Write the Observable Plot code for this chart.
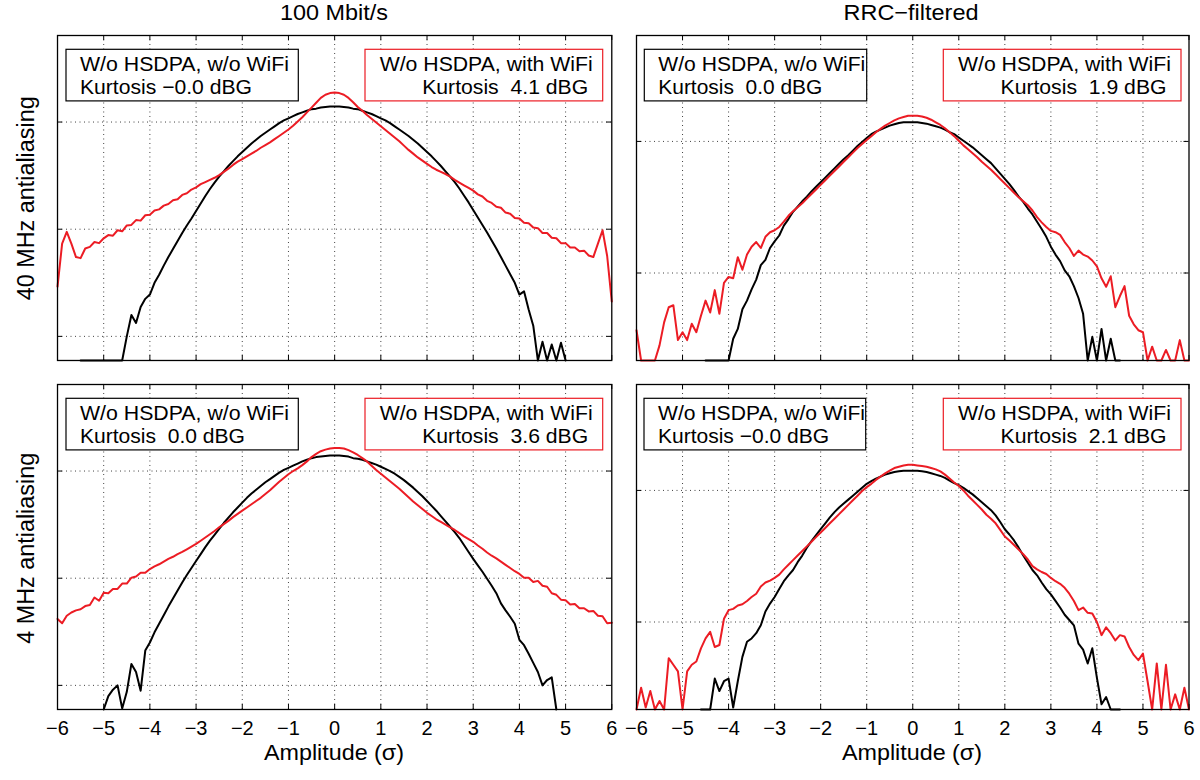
<!DOCTYPE html>
<html>
<head>
<meta charset="utf-8">
<script src="https://cdn.jsdelivr.net/npm/d3@7"></script>
<script src="https://cdn.jsdelivr.net/npm/@observablehq/plot@0.6"></script>
<style>
html,body{margin:0;padding:0;background:#fff;}
#root{position:relative;width:1200px;height:780px;overflow:hidden;background:#fff;}
#root svg{position:absolute;}
</style>
</head>
<body>
<div id="root"></div>
<script>
// ---------------- DATA ----------------
// Amplitude bins (in units of sigma)
const amplitude = [
-6,-5.9,-5.8,-5.7,-5.6,-5.5,-5.4,-5.3,-5.2,-5.1,
-5,-4.9,-4.8,-4.7,-4.6,-4.5,-4.4,-4.3,-4.2,-4.1,
-4,-3.9,-3.8,-3.7,-3.6,-3.5,-3.4,-3.3,-3.2,-3.1,
-3,-2.9,-2.8,-2.7,-2.6,-2.5,-2.4,-2.3,-2.2,-2.1,
-2,-1.9,-1.8,-1.7,-1.6,-1.5,-1.4,-1.3,-1.2,-1.1,
-1,-0.9,-0.8,-0.7,-0.6,-0.5,-0.4,-0.3,-0.2,-0.1,
0,0.1,0.2,0.3,0.4,0.5,0.6,0.7,0.8,0.9,
1,1.1,1.2,1.3,1.4,1.5,1.6,1.7,1.8,1.9,
2,2.1,2.2,2.3,2.4,2.5,2.6,2.7,2.8,2.9,
3,3.1,3.2,3.3,3.4,3.5,3.6,3.7,3.8,3.9,
4,4.1,4.2,4.3,4.4,4.5,4.6,4.7,4.8,4.9,
5,5.1,5.2,5.3,5.4,5.5,5.6,5.7,5.8,5.9,
6];

// log10 of the bin probability (null = no data)
// 100 Mbit/s, 40 MHz antialiasing
const mbit40_woWifi = [
null,null,null,null,null,-6.45,-6.45,-6.45,-6.45,-6.45,
-6.45,-6.45,-6.45,-6.45,-6.45,-6.0,-5.6,-5.75,-5.45,-5.3,
-5.22,-5.0,-4.85,-4.68,-4.52,-4.37,-4.22,-4.07,-3.93,-3.8,
-3.66,-3.52,-3.38,-3.25,-3.13,-3.02,-2.92,-2.82,-2.73,-2.64,
-2.56,-2.48,-2.4,-2.33,-2.26,-2.2,-2.14,-2.08,-2.02,-1.97,
-1.93,-1.89,-1.85,-1.82,-1.79,-1.76,-1.75,-1.73,-1.72,-1.71,
-1.71,-1.71,-1.72,-1.73,-1.75,-1.76,-1.79,-1.82,-1.85,-1.89,
-1.93,-1.97,-2.02,-2.08,-2.14,-2.2,-2.26,-2.33,-2.4,-2.48,
-2.56,-2.64,-2.73,-2.82,-2.92,-3.02,-3.12,-3.24,-3.37,-3.5,
-3.64,-3.78,-3.92,-4.06,-4.21,-4.36,-4.52,-4.68,-4.84,-5.0,
-5.22,-5.16,-5.5,-5.8,-6.45,-6.1,-6.45,-6.15,-6.45,-6.12,
-6.45,null,null,null,null,null,null,null,null,null,
null];
const mbit40_withWifi = [
-5.07,-4.27,-4.05,-4.27,-4.52,-4.54,-4.36,-4.33,-4.24,-4.26,
-4.17,-4.11,-4.12,-4.02,-4.04,-3.93,-3.92,-3.83,-3.84,-3.74,
-3.73,-3.65,-3.63,-3.56,-3.53,-3.46,-3.44,-3.36,-3.33,-3.26,
-3.22,-3.16,-3.12,-3.08,-3.04,-2.99,-2.93,-2.87,-2.8,-2.74,
-2.69,-2.64,-2.59,-2.54,-2.48,-2.43,-2.38,-2.32,-2.26,-2.2,
-2.14,-2.07,-1.99,-1.91,-1.82,-1.73,-1.64,-1.55,-1.49,-1.46,
-1.45,-1.46,-1.49,-1.55,-1.63,-1.72,-1.79,-1.87,-1.94,-2.01,
-2.08,-2.15,-2.22,-2.29,-2.36,-2.44,-2.52,-2.59,-2.66,-2.72,
-2.78,-2.84,-2.89,-2.93,-2.97,-3.02,-3.08,-3.13,-3.18,-3.23,
-3.28,-3.35,-3.39,-3.47,-3.51,-3.58,-3.6,-3.69,-3.71,-3.79,
-3.8,-3.88,-3.89,-3.97,-3.98,-4.07,-4.07,-4.16,-4.17,-4.26,
-4.26,-4.34,-4.34,-4.41,-4.4,-4.49,-4.52,-4.27,-4.02,-4.5,
-5.35];

// RRC-filtered, 40 MHz antialiasing
const rrc40_woWifi = [
null,null,null,null,null,null,null,null,null,null,
null,null,null,null,null,-5.33,-5.33,-5.33,-5.33,-5.33,
-5.33,-5.0,-4.85,-4.55,-4.42,-4.25,-4.1,-3.88,-3.8,-3.62,
-3.52,-3.43,-3.28,-3.18,-3.07,-2.99,-2.91,-2.84,-2.76,-2.69,
-2.62,-2.55,-2.48,-2.41,-2.34,-2.27,-2.21,-2.14,-2.07,-2.01,
-1.95,-1.89,-1.85,-1.82,-1.79,-1.76,-1.74,-1.72,-1.71,-1.71,
-1.71,-1.71,-1.72,-1.73,-1.75,-1.77,-1.79,-1.82,-1.86,-1.89,
-1.94,-1.99,-2.04,-2.09,-2.15,-2.21,-2.27,-2.33,-2.41,-2.49,
-2.57,-2.65,-2.74,-2.84,-2.92,-3.02,-3.11,-3.22,-3.33,-3.45,
-3.6,-3.72,-3.82,-3.96,-4.05,-4.2,-4.38,-4.62,-5.33,-4.97,
-5.33,-4.85,-5.33,-5.0,-5.33,-5.33,null,null,null,null,
null,null,null,null,null,null,null,null,null,null,
null];
const rrc40_withWifi = [
-4.87,-5.33,-5.33,-5.33,-5.33,-5.1,-4.75,-4.52,-4.49,-5.02,
-4.9,-5.02,-4.77,-4.9,-4.65,-4.42,-4.6,-4.26,-4.62,-4.15,
-4.06,-4.08,-3.76,-3.95,-3.72,-3.6,-3.53,-3.62,-3.45,-3.38,
-3.35,-3.3,-3.22,-3.13,-3.06,-3.0,-2.94,-2.87,-2.8,-2.73,
-2.66,-2.59,-2.52,-2.45,-2.38,-2.31,-2.24,-2.17,-2.1,-2.04,
-1.98,-1.92,-1.86,-1.81,-1.76,-1.72,-1.68,-1.65,-1.63,-1.61,
-1.61,-1.61,-1.62,-1.64,-1.67,-1.71,-1.75,-1.8,-1.86,-1.92,
-1.99,-2.06,-2.12,-2.18,-2.24,-2.31,-2.37,-2.43,-2.5,-2.57,
-2.64,-2.71,-2.78,-2.85,-2.91,-2.97,-3.05,-3.15,-3.23,-3.3,
-3.36,-3.38,-3.42,-3.53,-3.62,-3.74,-3.66,-3.72,-3.75,-3.81,
-3.9,-4.08,-4.21,-4.05,-4.52,-4.35,-4.2,-4.65,-4.78,-4.87,
-4.9,-5.33,-5.12,-5.33,-5.33,-5.17,-5.33,-5.33,-5.02,-5.33,
-5.33];

// 100 Mbit/s, 4 MHz antialiasing
const mbit4_woWifi = [
null,null,null,null,null,null,null,null,null,null,
-6.45,-6.2,-6.08,-6.0,-6.43,-6.12,-5.6,-5.75,-6.1,-5.35,
-5.2,-5.01,-4.85,-4.69,-4.53,-4.38,-4.23,-4.08,-3.94,-3.81,
-3.68,-3.55,-3.42,-3.3,-3.19,-3.08,-2.97,-2.87,-2.77,-2.68,
-2.59,-2.5,-2.42,-2.35,-2.28,-2.21,-2.15,-2.09,-2.03,-1.98,
-1.94,-1.9,-1.86,-1.82,-1.79,-1.76,-1.74,-1.73,-1.72,-1.71,
-1.71,-1.71,-1.72,-1.73,-1.76,-1.77,-1.79,-1.82,-1.85,-1.88,
-1.92,-1.96,-2.0,-2.05,-2.11,-2.17,-2.24,-2.31,-2.39,-2.47,
-2.56,-2.65,-2.74,-2.84,-2.94,-3.04,-3.14,-3.25,-3.38,-3.51,
-3.64,-3.76,-3.88,-4.01,-4.14,-4.28,-4.47,-4.6,-4.72,-4.85,
-5.15,-5.25,-5.41,-5.58,-5.75,-6.0,-5.9,-5.85,-6.45,null,
null,null,null,null,null,null,null,null,null,null,
null];
const mbit4_withWifi = [
-4.76,-4.84,-4.7,-4.64,-4.6,-4.58,-4.52,-4.5,-4.36,-4.42,
-4.27,-4.28,-4.2,-4.2,-4.1,-4.1,-3.99,-3.97,-3.9,-3.9,
-3.83,-3.78,-3.74,-3.69,-3.64,-3.6,-3.55,-3.51,-3.46,-3.41,
-3.36,-3.3,-3.24,-3.18,-3.12,-3.05,-2.99,-2.93,-2.86,-2.8,
-2.74,-2.68,-2.62,-2.56,-2.5,-2.43,-2.36,-2.28,-2.2,-2.13,
-2.06,-2.0,-1.95,-1.89,-1.82,-1.74,-1.68,-1.63,-1.6,-1.58,
-1.57,-1.57,-1.58,-1.61,-1.65,-1.7,-1.76,-1.82,-1.9,-1.98,
-2.05,-2.12,-2.19,-2.26,-2.33,-2.41,-2.49,-2.57,-2.64,-2.71,
-2.78,-2.84,-2.9,-2.95,-3.0,-3.05,-3.1,-3.16,-3.22,-3.27,
-3.32,-3.39,-3.45,-3.52,-3.58,-3.63,-3.69,-3.75,-3.81,-3.87,
-3.92,-3.99,-3.99,-4.07,-4.05,-4.14,-4.16,-4.28,-4.31,-4.4,
-4.41,-4.49,-4.48,-4.56,-4.56,-4.62,-4.61,-4.7,-4.71,-4.84,
-4.83];

// RRC-filtered, 4 MHz antialiasing
const rrc4_woWifi = [
null,null,null,null,null,null,null,null,null,null,
null,null,null,null,-5.33,-5.33,-5.33,-4.86,-5.05,-4.9,
-4.86,-5.3,-4.9,-4.53,-4.3,-4.25,-4.17,-4.05,-3.84,-3.72,
-3.62,-3.5,-3.38,-3.29,-3.21,-3.09,-2.99,-2.87,-2.77,-2.68,
-2.59,-2.5,-2.41,-2.33,-2.26,-2.2,-2.14,-2.08,-2.02,-1.96,
-1.9,-1.86,-1.82,-1.79,-1.76,-1.74,-1.72,-1.71,-1.7,-1.7,
-1.7,-1.7,-1.71,-1.72,-1.74,-1.76,-1.78,-1.81,-1.85,-1.89,
-1.92,-1.96,-2.01,-2.06,-2.12,-2.18,-2.24,-2.3,-2.38,-2.48,
-2.59,-2.67,-2.76,-2.87,-2.99,-3.1,-3.21,-3.29,-3.4,-3.5,
-3.58,-3.68,-3.78,-3.89,-3.97,-4.05,-4.33,-4.42,-4.63,-4.4,
-4.85,-5.25,-5.14,-5.33,-5.33,-5.33,null,null,null,null,
null,null,null,null,null,null,null,null,null,null,
null];
const rrc4_withWifi = [
-5.33,-5.0,-5.3,-5.05,-5.33,-5.2,-5.33,-4.55,-4.65,-4.75,
-5.33,-4.75,-4.65,-4.6,-4.4,-4.25,-4.15,-4.38,-4.35,-3.95,
-3.82,-3.8,-3.75,-3.73,-3.68,-3.62,-3.57,-3.46,-3.4,-3.37,
-3.33,-3.28,-3.2,-3.13,-3.06,-2.99,-2.92,-2.85,-2.78,-2.71,
-2.64,-2.57,-2.5,-2.43,-2.36,-2.29,-2.22,-2.15,-2.08,-2.01,
-1.95,-1.9,-1.84,-1.79,-1.74,-1.7,-1.66,-1.64,-1.62,-1.61,
-1.61,-1.62,-1.63,-1.64,-1.66,-1.68,-1.71,-1.76,-1.82,-1.88,
-1.93,-2.0,-2.08,-2.15,-2.22,-2.29,-2.37,-2.43,-2.5,-2.6,
-2.7,-2.76,-2.83,-2.9,-2.97,-3.05,-3.15,-3.2,-3.24,-3.27,
-3.33,-3.38,-3.42,-3.48,-3.57,-3.68,-3.82,-3.78,-3.86,-3.87,
-4.0,-4.2,-4.08,-4.17,-4.28,-4.2,-4.22,-4.38,-4.5,-4.58,
-4.48,-4.9,-5.33,-4.63,-5.33,-4.65,-5.33,-5.1,-5.33,-5.0,
-5.33];

// Tick values / labels
const xTickValues = [-6,-5,-4,-3,-2,-1,0,1,2,3,4,5,6];
const yGridLeft = [1e-2, 1e-4, 1e-6];
const yGridRight = [1e-2, 1e-4];
const columnTitles = ["100 Mbit/s", "RRC\u2212filtered"];
const rowTitles = ["40 MHz antialiasing", "4 MHz antialiasing"];
const seriesNames = ["W/o HSDPA, w/o WiFi", "W/o HSDPA, with WiFi"];
const kurtosisWo = ["\u22120.0", " 0.0", " 0.0", "\u22120.0"];
const kurtosisWith = [" 4.1", " 1.9", " 3.6", " 2.1"];
const xLabel = "Amplitude (\u03c3)";
const yDomainLeft = [-6.45, -0.385];   // log10 limits
const yDomainRight = [-5.33, -0.39];

// ---------------- RENDER ----------------
const FONT = '"Liberation Sans", Arial, Helvetica, sans-serif';
const RED = "#ec1c24";
const root = document.getElementById("root");

function rows(values) {
  return amplitude.map((a, i) => ({a, p: values[i] == null ? NaN : Math.pow(10, values[i])}));
}

const panels = [
  {left: 56.7, top: 35, w: 554.3, h: 325, dom: yDomainLeft, grid: yGridLeft, wo: mbit40_woWifi, wi: mbit40_withWifi, axis: false},
  {left: 636, top: 35, w: 552.5, h: 325, dom: yDomainRight, grid: yGridRight, wo: rrc40_woWifi, wi: rrc40_withWifi, axis: false},
  {left: 56.7, top: 384, w: 554.3, h: 325, dom: yDomainLeft, grid: yGridLeft, wo: mbit4_woWifi, wi: mbit4_withWifi, axis: true},
  {left: 636, top: 384, w: 552.5, h: 325, dom: yDomainRight, grid: yGridRight, wo: rrc4_woWifi, wi: rrc4_withWifi, axis: true}
];

const fmt = d => d < 0 ? "\u2212" + Math.abs(d) : String(d);

panels.forEach(pn => {
  const mL = 22, mR = 12, mT = 8, mB = pn.axis ? 40 : 8;
  const marks = [
    Plot.ruleX(xTickValues.slice(1, -1), {stroke: "#000", strokeOpacity: 0.75, strokeDasharray: "1,3.5"}),
    Plot.ruleY(pn.grid, {stroke: "#000", strokeOpacity: 0.75, strokeDasharray: "1,3.5"}),
    Plot.tickX(xTickValues, {x: d => d, insetBottom: pn.h - 5, stroke: "#000"}),
    Plot.tickX(xTickValues, {x: d => d, insetTop: pn.h - 5, stroke: "#000"}),
    Plot.tickY(pn.grid, {y: d => d, insetRight: pn.w - 5, stroke: "#000"}),
    Plot.tickY(pn.grid, {y: d => d, insetLeft: pn.w - 5, stroke: "#000"}),
    Plot.line(rows(pn.wo), {x: "a", y: "p", stroke: "#000", strokeWidth: 2}),
    Plot.line(rows(pn.wi), {x: "a", y: "p", stroke: RED, strokeWidth: 2}),
    Plot.frame({stroke: "#000", strokeWidth: 1.3})
  ];
  if (pn.axis) marks.push(Plot.axisX(xTickValues, {tickSize: 0, tickPadding: 11, tickFormat: fmt, label: null, fontSize: 20}));
  const chart = Plot.plot({
    width: pn.w + mL + mR,
    height: pn.h + mT + mB,
    marginLeft: mL, marginRight: mR, marginTop: mT, marginBottom: mB,
    style: {background: "transparent", fontFamily: FONT, fontSize: "20px", overflow: "visible", color: "#000"},
    x: {domain: [-6, 6], axis: null},
    y: {type: "log", domain: [Math.pow(10, pn.dom[0]), Math.pow(10, pn.dom[1])], axis: null},
    marks
  });
  chart.style.left = (pn.left - mL) + "px";
  chart.style.top = (pn.top - mT) + "px";
  root.appendChild(chart);
});

// Overlay: titles, row labels, axis labels, legend boxes
const svg = d3.select(root).append("svg")
  .attr("width", 1200).attr("height", 780)
  .style("left", "0px").style("top", "0px")
  .attr("font-family", FONT);

function txt(x, y, s, {size = 21, anchor = "start", len = null, rotate = 0, fill = "#000"} = {}) {
  const t = svg.append("text").attr("x", x).attr("y", y)
    .attr("font-size", size).attr("text-anchor", anchor).attr("fill", fill)
    .style("white-space", "pre").text(s);
  if (len) t.attr("textLength", len).attr("lengthAdjust", "spacingAndGlyphs");
  if (rotate) t.attr("transform", `rotate(${rotate},${x},${y})`);
}

txt(334, 19.5, columnTitles[0], {size: 22, anchor: "middle", len: 108});
txt(911, 19.5, columnTitles[1], {size: 22, anchor: "middle", len: 135});
txt(34.5, 198.3, rowTitles[0], {size: 23, anchor: "middle", len: 204, rotate: -90});
txt(34.5, 548.3, rowTitles[1], {size: 23, anchor: "middle", len: 191, rotate: -90});
txt(334, 760, xLabel, {size: 22, anchor: "middle", len: 140});
txt(912, 760, xLabel, {size: 22, anchor: "middle", len: 140});

const legendBoxes = [
  {bx: 66, bw: 232.3, rx: 365, rw: 237.7, top: 49.3, wo1: 209, wo2: 172},
  {bx: 644.3, bw: 222.4, rx: 943.3, rw: 237.7, top: 49.3, wo1: 207, wo2: 164},
  {bx: 66, bw: 232.3, rx: 365, rw: 237.7, top: 398.3, wo1: 209, wo2: 165},
  {bx: 644, bw: 221.7, rx: 943.3, rw: 237.7, top: 398.3, wo1: 207, wo2: 171}
];
legendBoxes.forEach((b, i) => {
  const h = 51.6;
  svg.append("rect").attr("x", b.bx).attr("y", b.top).attr("width", b.bw).attr("height", h)
    .attr("fill", "#fff").attr("stroke", "#000").attr("stroke-width", 1.2);
  svg.append("rect").attr("x", b.rx).attr("y", b.top).attr("width", b.rw).attr("height", h)
    .attr("fill", "#fff").attr("stroke", RED).attr("stroke-width", 1.2);
  txt(b.bx + 14, b.top + 21.3, seriesNames[0], {size: 20.5, len: b.wo1});
  txt(b.bx + 14, b.top + 45, "Kurtosis " + kurtosisWo[i] + " dBG", {size: 20.5, len: b.wo2});
  txt(b.rx + b.rw - 10, b.top + 21.3, seriesNames[1], {size: 20.5, anchor: "end", len: 213});
  txt(b.rx + b.rw - 14.5, b.top + 45, "Kurtosis " + kurtosisWith[i] + " dBG", {size: 20.5, anchor: "end", len: 166});
});
</script>
</body>
</html>
